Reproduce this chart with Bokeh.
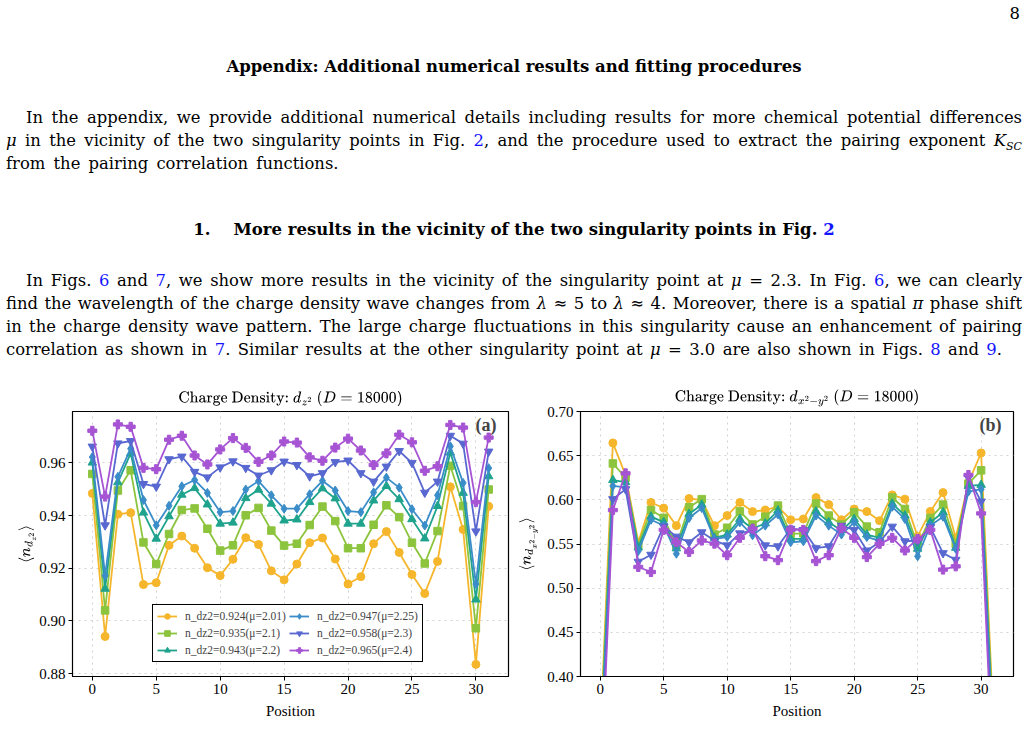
from bokeh.plotting import figure
from bokeh.models import (Div, Legend, LegendItem, Label, NumeralTickFormatter,
                          FixedTicker, Range1d)
from bokeh.layouts import column, row
from bokeh.embed import file_html
from bokeh.resources import INLINE

# ---------------------------------------------------------------- data
positions = list(range(32))

mu_values = [2.01, 2.1, 2.2, 2.25, 2.3, 2.4]
n_dz2_values = [0.924, 0.935, 0.943, 0.947, 0.958, 0.965]

# <n_dz2> along the chain, one list per chemical potential difference
dz2_mu201 = [0.9484, 0.8941, 0.9405, 0.9411, 0.9138, 0.9145, 0.9287, 0.9322, 0.9276, 0.9202,
             0.9172, 0.9234, 0.9316, 0.9290, 0.9190, 0.9156, 0.9216, 0.9297, 0.9315, 0.9235,
             0.9140, 0.9168, 0.9293, 0.9339, 0.9260, 0.9176, 0.9104, 0.9226, 0.9509, 0.9347,
             0.8835, 0.9435]
dz2_mu210 = [0.9558, 0.9040, 0.9495, 0.9572, 0.9298, 0.9216, 0.9330, 0.9421, 0.9427, 0.9350,
             0.9267, 0.9287, 0.9401, 0.9429, 0.9343, 0.9286, 0.9293, 0.9364, 0.9434, 0.9379,
             0.9276, 0.9276, 0.9365, 0.9439, 0.9394, 0.9297, 0.9218, 0.9341, 0.9589, 0.9436,
             0.8972, 0.9499]
dz2_mu220 = [0.9601, 0.9122, 0.9526, 0.9636, 0.9411, 0.9312, 0.9397, 0.9479, 0.9504, 0.9442,
             0.9369, 0.9373, 0.9466, 0.9498, 0.9445, 0.9381, 0.9385, 0.9451, 0.9503, 0.9465,
             0.9369, 0.9369, 0.9457, 0.9512, 0.9462, 0.9386, 0.9313, 0.9436, 0.9639, 0.9486,
             0.9081, 0.9549]
dz2_mu225 = [0.9622, 0.9172, 0.9547, 0.9654, 0.9459, 0.9363, 0.9437, 0.9511, 0.9535, 0.9486,
             0.9413, 0.9417, 0.9499, 0.9531, 0.9477, 0.9426, 0.9426, 0.9481, 0.9532, 0.9495,
             0.9417, 0.9413, 0.9488, 0.9544, 0.9506, 0.9424, 0.9362, 0.9477, 0.9663, 0.9524,
             0.9140, 0.9580]
dz2_mu230 = [0.9662, 0.9363, 0.9674, 0.9683, 0.9520, 0.9510, 0.9614, 0.9624, 0.9566, 0.9545,
             0.9583, 0.9606, 0.9581, 0.9552, 0.9572, 0.9605, 0.9592, 0.9549, 0.9561, 0.9603,
             0.9609, 0.9561, 0.9529, 0.9586, 0.9645, 0.9600, 0.9487, 0.9529, 0.9703, 0.9673,
             0.9340, 0.9643]
dz2_mu240 = [0.9722, 0.9472, 0.9746, 0.9737, 0.9581, 0.9576, 0.9688, 0.9703, 0.9628, 0.9594,
             0.9651, 0.9694, 0.9657, 0.9604, 0.9628, 0.9681, 0.9677, 0.9621, 0.9608, 0.9658,
             0.9692, 0.9647, 0.9592, 0.9636, 0.9707, 0.9678, 0.9570, 0.9587, 0.9744, 0.9734,
             0.9451, 0.9696]

# <n_dx2-y2> along the chain
dx2y2_mu201 = [0.330, 0.6644, 0.628, 0.552, 0.597, 0.5907, 0.5708, 0.6015, 0.5997, 0.5708,
               0.5822, 0.597, 0.5867, 0.5884, 0.5924, 0.5774, 0.5783, 0.6026, 0.5946, 0.5774,
               0.5896, 0.5867, 0.5764, 0.6056, 0.6008, 0.5586, 0.5869, 0.6082, 0.557, 0.6194,
               0.6531, 0.340]
dx2y2_mu210 = [0.320, 0.6412, 0.625, 0.549, 0.5884, 0.5796, 0.5485, 0.5916, 0.6008, 0.5607,
               0.5684, 0.5869, 0.5721, 0.5809, 0.5935, 0.5615, 0.5621, 0.5958, 0.5822, 0.5721,
               0.5859, 0.5697, 0.5633, 0.6026, 0.5896, 0.5485, 0.5794, 0.5946, 0.5502, 0.6183,
               0.6334, 0.330]
dx2y2_mu220 = [0.310, 0.6224, 0.620, 0.546, 0.581, 0.5747, 0.545, 0.584, 0.5946, 0.557,
               0.5607, 0.5783, 0.5673, 0.5734, 0.5879, 0.5558, 0.5558, 0.5869, 0.5747, 0.5654,
               0.5783, 0.5607, 0.557, 0.5958, 0.5822, 0.5446, 0.5745, 0.5859, 0.5457, 0.6157,
               0.6169, 0.320]
dx2y2_mu225 = [0.300, 0.6157, 0.614, 0.542, 0.5774, 0.571, 0.539, 0.5794, 0.5907, 0.5558,
               0.5578, 0.5745, 0.5598, 0.5708, 0.5834, 0.552, 0.5531, 0.5822, 0.5708, 0.5607,
               0.5745, 0.5578, 0.5539, 0.5921, 0.5783, 0.536, 0.5708, 0.5809, 0.5446, 0.6093,
               0.612, 0.310]
dx2y2_mu230 = [0.280, 0.6008, 0.612, 0.530, 0.5379, 0.570, 0.5584, 0.552, 0.5633, 0.5539,
               0.5485, 0.5621, 0.5654, 0.5485, 0.5474, 0.5673, 0.566, 0.5453, 0.5474, 0.5708,
               0.566, 0.5427, 0.552, 0.5697, 0.5531, 0.5539, 0.5689, 0.5397, 0.5322, 0.6251,
               0.5981, 0.290]
dx2y2_mu240 = [0.260, 0.5884, 0.630, 0.524, 0.5183, 0.566, 0.552, 0.541, 0.5539, 0.5504,
               0.5373, 0.557, 0.5673, 0.5362, 0.5317, 0.5662, 0.566, 0.5306, 0.5373, 0.5678,
               0.557, 0.5352, 0.5502, 0.557, 0.5427, 0.5558, 0.566, 0.521, 0.5247, 0.6281,
               0.5846, 0.270]

x_ticks = [0, 5, 10, 15, 20, 25, 30]
dz2_ticks = [0.88, 0.90, 0.92, 0.94, 0.96]
dx2y2_ticks = [0.40, 0.45, 0.50, 0.55, 0.60, 0.65, 0.70]

# ---------------------------------------------------------------- style
series_colors = ["#F5B62C", "#8CC43D", "#1FA38D", "#3B8DC9", "#5868D0", "#A654D3"]
series_markers = ["circle", "square", "triangle", "diamond", "inverted_triangle", "plus"]
marker_sizes = [8, 7.5, 8.5, 9, 8.5, 9]
SERIF = "Liberation Serif"
TEXT_FONT = "DejaVu Serif"

TOP_H = 382          # height of the text block above the figures
FIG_H = 344


def style_axes(p, y_ticks):
    p.xaxis.ticker = FixedTicker(ticks=x_ticks)
    p.yaxis.ticker = FixedTicker(ticks=y_ticks)
    p.yaxis.formatter = NumeralTickFormatter(format="0.00")
    for ax in (p.xaxis, p.yaxis):
        ax.major_label_text_font = SERIF
        ax.major_label_text_font_size = "15px"
        ax.major_label_text_color = "black"
        ax.axis_label_text_font = SERIF
        ax.axis_label_text_font_size = "15px"
        ax.axis_label_text_font_style = "normal"
        ax.axis_label_text_color = "black"
        ax.axis_line_color = "black"
        ax.major_tick_line_color = "black"
        ax.major_tick_in = 0
        ax.major_tick_out = 4
        ax.minor_tick_line_color = None
        ax.major_label_standoff = 3
    p.xaxis.axis_label = "Position"
    p.xaxis.axis_label_standoff = 6
    for g in (p.xgrid, p.ygrid):
        g.grid_line_color = "#d2d2d2"
        g.grid_line_dash = "dotted"
        g.grid_line_width = 1
    p.xgrid.ticker = FixedTicker(ticks=x_ticks)
    p.ygrid.ticker = FixedTicker(ticks=y_ticks)
    p.outline_line_color = "black"
    p.outline_line_width = 1.2
    p.title.align = "center"
    p.title.text_font = SERIF
    p.title.text_font_size = "15px"
    p.title.text_font_style = "normal"
    p.title.text_color = "black"


def draw_series(p, series):
    items = []
    for ys, color, marker, size, n, mu in zip(series, series_colors, series_markers,
                                             marker_sizes, n_dz2_values, mu_values):
        ln = p.line(positions, ys, line_color=color, line_width=1.8)
        sc = p.scatter(positions, ys, marker=marker, size=size,
                       fill_color=color, line_color=color)
        items.append(LegendItem(label=f"n_dz2={n}(μ={mu})", renderers=[ln, sc]))
    return items


# ---------------------------------------------------------------- panel (a)
pa = figure(width=515, height=FIG_H, output_backend="svg", toolbar_location=None,
            x_range=Range1d(-1.55, 32.55), y_range=Range1d(0.8789, 0.9795),
            min_border_left=72, min_border_right=7, min_border_top=21, min_border_bottom=50,
            title=r"Charge Density: $$d_{z^2}\ (D=18000)$$")
style_axes(pa, dz2_ticks)
pa.yaxis.axis_label = r"$$\langle n_{d_{z^2}} \rangle$$"
pa.yaxis.axis_label_standoff = 0
items_a = draw_series(pa, [dz2_mu201, dz2_mu210, dz2_mu220, dz2_mu225, dz2_mu230, dz2_mu240])

legend = Legend(items=items_a, location=(80, 14), ncols=2,
                border_line_color="black", border_line_width=1, border_line_alpha=1,
                background_fill_color="white", background_fill_alpha=1,
                label_text_font=SERIF, label_text_font_size="11.5px",
                label_text_font_style="normal",
                glyph_width=20, glyph_height=14, spacing=3, padding=4, label_standoff=8,
                label_height=14, margin=0)
pa.add_layout(legend)
pa.add_layout(Label(x=32.55, y=0.9795, x_offset=-12, y_offset=-3, text="(a)",
                    text_align="right", text_baseline="top", text_font=SERIF,
                    text_font_size="18px", text_font_style="bold"))

# ---------------------------------------------------------------- panel (b)
pb = figure(width=513, height=FIG_H, output_backend="svg", toolbar_location=None,
            x_range=Range1d(-1.55, 32.55), y_range=Range1d(0.40, 0.70),
            min_border_left=62, min_border_right=15, min_border_top=22, min_border_bottom=50,
            title=r"Charge Density: $$d_{x^2-y^2}\ (D=18000)$$")
style_axes(pb, dx2y2_ticks)
pb.yaxis.axis_label = r"$$\langle n_{d_{x^2-y^2}} \rangle$$"
pb.yaxis.axis_label_standoff = 6
draw_series(pb, [dx2y2_mu201, dx2y2_mu210, dx2y2_mu220, dx2y2_mu225, dx2y2_mu230, dx2y2_mu240])
pb.add_layout(Label(x=32.55, y=0.70, x_offset=-12, y_offset=-3, text="(b)",
                    text_align="right", text_baseline="top", text_font=SERIF,
                    text_font_size="18px", text_font_style="bold"))

# ---------------------------------------------------------------- page text
LINK = "color:#1515ff;"


def line(top, left, width, html, justify=True, extra=""):
    align = "text-align:justify;text-align-last:justify;" if justify else "text-align:left;"
    return (f'<div style="position:absolute;top:{top}px;left:{left}px;width:{width}px;'
            f'white-space:nowrap;{align}{extra}">{html}</div>')


HEAD = "text-align:center;font-weight:bold;font-size:16.5px;"
lines = [
    line(2, 900, 120, "8", justify=False, extra="text-align:right;"),
    line(55, 0, 1028, "Appendix: Additional numerical results and fitting procedures",
         justify=False, extra=HEAD),
    line(106, 26, 996, "In the appendix, we provide additional numerical details including "
         "results for more chemical potential differences"),
    line(129, 6, 1016, f"<i>μ</i> in the vicinity of the two singularity points in Fig. "
         f"<span style='{LINK}'>2</span>, and the procedure used to extract the pairing "
         f"exponent <i>K</i><sub style='font-size:11px;line-height:0'><i>SC</i></sub>"),
    line(152, 6, 1016, "from the pairing correlation functions.", justify=False,
         extra="word-spacing:3px;"),
    line(218, 0, 1028, f"1.&nbsp;&nbsp;&nbsp;&nbsp;More results in the vicinity of the two "
         f"singularity points in Fig. <span style='{LINK}'>2</span>",
         justify=False, extra=HEAD),
    line(269, 26, 996, f"In Figs. <span style='{LINK}'>6</span> and <span style='{LINK}'>7</span>, "
         f"we show more results in the vicinity of the singularity point at <i>μ</i> = 2.3. "
         f"In Fig. <span style='{LINK}'>6</span>, we can clearly"),
    line(292, 6, 1016, "find the wavelength of the charge density wave changes from "
         "<i>λ</i> ≈ 5 to <i>λ</i> ≈ 4. Moreover, there is a spatial <i>π</i> phase shift"),
    line(315, 6, 1016, "in the charge density wave pattern. The large charge fluctuations in "
         "this singularity cause an enhancement of pairing"),
    line(338, 6, 1016, f"correlation as shown in <span style='{LINK}'>7</span>. Similar results "
         f"at the other singularity point at <i>μ</i> = 3.0 are also shown in Figs. "
         f"<span style='{LINK}'>8</span> and <span style='{LINK}'>9</span>.", justify=False,
         extra="word-spacing:2.2px;"),
]

page_html = (f'<div style="position:relative;width:1028px;height:{TOP_H}px;'
             f'font-family:\'{TEXT_FONT}\',serif;font-size:16.4px;line-height:23px;color:black;">'
             + "".join(lines) + "</div>")
header = Div(text=page_html, width=1028, height=TOP_H, margin=0)

layout = column(header, row(pa, pb, spacing=0), spacing=0)

open("out.html", "w").write(file_html(layout, INLINE))
